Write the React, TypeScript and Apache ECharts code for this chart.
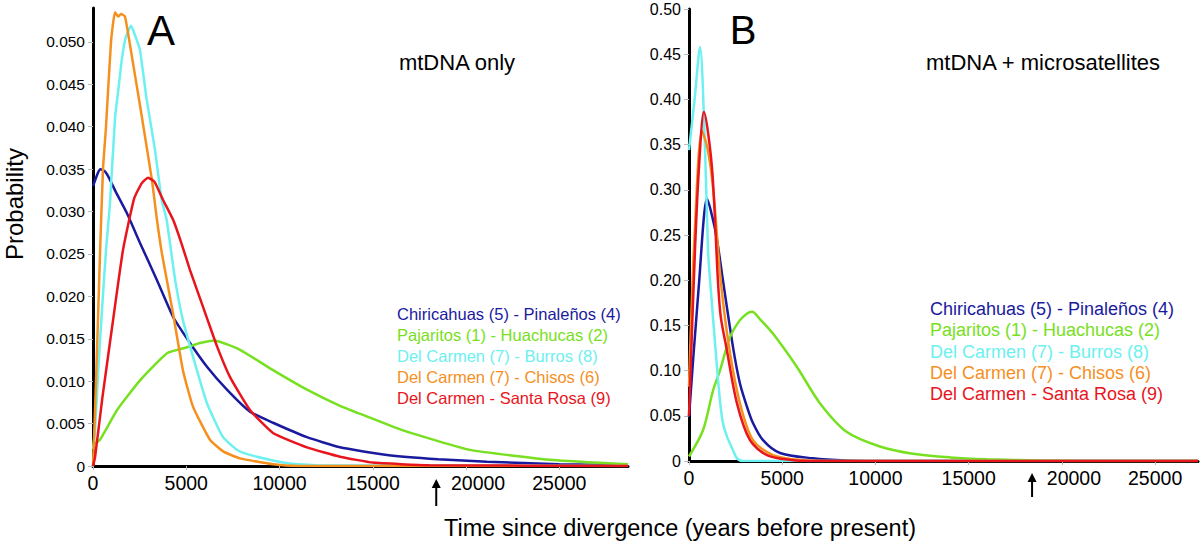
import React, { useEffect, useRef } from 'react';
import * as echarts from 'echarts';

const seriesNames = [
  'Chiricahuas (5) - Pinaleños (4)',
  'Pajaritos (1) - Huachucas (2)',
  'Del Carmen (7) - Burros (8)',
  'Del Carmen (7) - Chisos (6)',
  'Del Carmen - Santa Rosa (9)',
];
const seriesColors = ['#1a1a9e', '#77e021', '#6cf0f0', '#f5901f', '#e8151c'];

const yTicksA = [0, 0.005, 0.01, 0.015, 0.02, 0.025, 0.03, 0.035, 0.04, 0.045, 0.05];
const yTicksB = [0, 0.05, 0.1, 0.15, 0.2, 0.25, 0.3, 0.35, 0.4, 0.45, 0.5];
const xTicks = [0, 5000, 10000, 15000, 20000, 25000];
const arrowYear = 18400;
const xMaxA = 28680;
const xMaxB = 27300;

// Panel A: mtDNA only
const navyA: [number, number][] = [[0, 0.033], [250, 0.0345], [400, 0.035], [650, 0.0347], [900, 0.0338], [1180, 0.0325], [1820, 0.0298], [2520, 0.0263], [3430, 0.0219], [4290, 0.0176], [5200, 0.0145], [6110, 0.0117], [7180, 0.009], [8415, 0.0064], [9650, 0.0051], [11470, 0.0034], [13240, 0.0022], [15760, 0.0013], [18500, 0.0008], [21120, 0.0005], [25000, 0.0002], [28680, 0.0001]];
const greenA: [number, number][] = [[0, 0.0025], [375, 0.0031], [1290, 0.0066], [2520, 0.0101], [3970, 0.0133], [5040, 0.014], [5740, 0.0145], [6500, 0.0148], [7880, 0.0137], [9650, 0.0113], [11470, 0.009], [13240, 0.0071], [14500, 0.006], [16620, 0.0042], [20210, 0.0019], [24660, 0.0007], [28680, 0.0002]];
const cyanA: [number, number][] = [[0, 0.002], [100, 0.004], [300, 0.012], [500, 0.019], [700, 0.0255], [911, 0.031], [1180, 0.041], [1340, 0.044], [1550, 0.048], [1750, 0.0505], [2040, 0.0519], [2300, 0.0505], [2520, 0.049], [2880, 0.0432], [3320, 0.0373], [3680, 0.0314], [3950, 0.029], [4400, 0.022], [4820, 0.0172], [5570, 0.0113], [6110, 0.0074], [6970, 0.0034], [7800, 0.0018], [8790, 0.0011], [10560, 0.0003], [12000, 0.0001], [28680, 0]];
const orangeA: [number, number][] = [[0, 0], [100, 0.006], [250, 0.016], [375, 0.025], [536, 0.035], [697, 0.04], [965, 0.05], [1180, 0.0535], [1350, 0.053], [1500, 0.0533], [1715, 0.053], [2144, 0.0475], [2520, 0.0425], [3160, 0.0337], [3430, 0.029], [3700, 0.025], [4290, 0.018], [4820, 0.0113], [5360, 0.007], [6270, 0.0031], [7000, 0.0017], [7880, 0.0009], [9650, 0.0002], [11000, 0], [28680, 0]];
const redA: [number, number][] = [[0, 0], [107, 0.001], [500, 0.008], [1000, 0.016], [1610, 0.0255], [2200, 0.0315], [2600, 0.0333], [2950, 0.034], [3300, 0.0335], [3750, 0.0314], [4300, 0.029], [4750, 0.0262], [5200, 0.0231], [5650, 0.0203], [6100, 0.0175], [6650, 0.0141], [7340, 0.0105], [8415, 0.0066], [9650, 0.0039], [11470, 0.0022], [13240, 0.0011], [15010, 0.0004], [18000, 0.0001], [28680, 0]];

// Panel B: mtDNA + microsatellites
const navyB: [number, number][] = [[0, 0.049], [250, 0.12], [550, 0.2], [800, 0.27], [960, 0.29], [1250, 0.27], [1500, 0.245], [1820, 0.2], [2360, 0.126], [2730, 0.086], [3110, 0.06], [3430, 0.042], [3970, 0.023], [4880, 0.0088], [6650, 0.003], [8400, 0.0005], [10000, 0], [27300, 0]];
const greenB: [number, number][] = [[0, 0.005], [750, 0.034], [1290, 0.078], [1660, 0.1], [2200, 0.137], [2700, 0.155], [3100, 0.163], [3380, 0.165], [3800, 0.157], [4500, 0.141], [5790, 0.104], [7020, 0.064], [8470, 0.032], [10240, 0.016], [12000, 0.008], [14000, 0.004], [16000, 0.002], [19000, 0.0005], [22000, 0], [27300, 0]];
const cyanB: [number, number][] = [[0, 0.344], [300, 0.4], [590, 0.458], [860, 0.344], [1020, 0.233], [1130, 0.2], [1500, 0.104], [1660, 0.067], [1820, 0.042], [2040, 0.027], [2360, 0.012], [2570, 0.003], [2900, 0], [27300, 0]];
const orangeB: [number, number][] = [[0, 0.082], [300, 0.25], [700, 0.365], [1000, 0.345], [1300, 0.3], [1700, 0.2], [2150, 0.126], [2730, 0.064], [3430, 0.023], [4500, 0.0066], [6000, 0.001], [7500, 0], [27300, 0]];
const redB: [number, number][] = [[0, 0.05], [320, 0.233], [550, 0.33], [800, 0.386], [1230, 0.325], [1550, 0.2], [1700, 0.16], [2000, 0.126], [2570, 0.064], [3270, 0.023], [4180, 0.0066], [5500, 0.001], [6500, 0], [27300, 0]];

const dataA = [navyA, greenA, cyanA, orangeA, redA];
const dataB = [navyB, greenB, cyanB, orangeB, redB];

const FONT = '"Liberation Sans", Arial, Helvetica, sans-serif';

function xAxisCfg(gridIndex: number, max: number) {
  return {
    gridIndex,
    type: 'value',
    min: 0,
    max,
    axisLine: { show: true, onZero: false, lineStyle: { color: '#000', width: 3 } },
    axisTick: { show: true, length: 4, customValues: xTicks, lineStyle: { color: '#bbb' } },
    splitLine: { show: false },
    axisLabel: {
      customValues: xTicks,
      fontSize: 19.5,
      color: '#000',
      fontFamily: FONT,
      margin: 7,
      formatter: (v: number) => (v === 20000 ? '{s|20000}' : String(v)),
      rich: { s: { padding: [0, 0, 0, 24], fontSize: 19.5, color: '#000', fontFamily: FONT } },
    },
  };
}

function yAxisCfg(gridIndex: number, max: number, ticks: number[], digits: number, fontSize: number) {
  return {
    gridIndex,
    type: 'value',
    min: 0,
    max,
    axisLine: { show: true, lineStyle: { color: '#000', width: 3 } },
    axisTick: { show: true, length: 5, customValues: ticks, lineStyle: { color: '#bbb' } },
    splitLine: { show: false },
    axisLabel: {
      customValues: ticks,
      fontSize,
      color: '#000',
      fontFamily: FONT,
      margin: 8,
      formatter: (v: number) => (v === 0 ? '0' : v.toFixed(digits)),
    },
  };
}

export default function App() {
  const ref = useRef<HTMLDivElement>(null);
  useEffect(() => {
    const chart = echarts.init(ref.current!, null, { renderer: 'svg' });
    const series: any[] = [];
    dataA.forEach((d, i) => {
      series.push({
        type: 'line', name: seriesNames[i], xAxisIndex: 0, yAxisIndex: 0, data: d,
        showSymbol: false, smooth: 0.15, lineStyle: { color: seriesColors[i], width: 2.5 },
        itemStyle: { color: seriesColors[i] },
      });
    });
    dataB.forEach((d, i) => {
      series.push({
        type: 'line', name: seriesNames[i], xAxisIndex: 1, yAxisIndex: 1, data: d,
        showSymbol: false, smooth: 0.3, lineStyle: { color: seriesColors[i], width: 2.5 },
        itemStyle: { color: seriesColors[i] },
      });
    });

    const legendA = seriesNames.map((n, i) => ({
      type: 'text', left: 397, top: [315.5, 336.5, 357.5, 378, 399][i] - 10,
      style: { text: n, fill: seriesColors[i], font: `16.5px ${FONT}` },
    }));
    const legendB = seriesNames.map((n, i) => ({
      type: 'text', left: 930, top: [311, 332, 353.5, 375, 396][i] - 11,
      style: { text: n, fill: seriesColors[i], font: `18px ${FONT}` },
    }));

    chart.setOption({
      animation: false,
      backgroundColor: '#fff',
      grid: [
        { left: 93, top: 8, width: 535, height: 458 },
        { left: 689, top: 9, width: 509, height: 452 },
      ],
      xAxis: [xAxisCfg(0, xMaxA), xAxisCfg(1, xMaxB)],
      yAxis: [
        yAxisCfg(0, 0.054, yTicksA, 3, 15.5),
        yAxisCfg(1, 0.5, yTicksB, 2, 16),
      ],
      series,
    });

    const ax = chart.convertToPixel({ xAxisIndex: 0 }, arrowYear) as number;
    const bx = chart.convertToPixel({ xAxisIndex: 1 }, arrowYear) as number;
    const arrow = (x: number, y0: number, y1: number) => [
      { type: 'line', shape: { x1: x, y1: y0 + 5, x2: x, y2: y1 }, style: { stroke: '#000', lineWidth: 2 } },
      { type: 'polygon', shape: { points: [[x - 4.5, y0 + 9], [x, y0], [x + 4.5, y0 + 9]] }, style: { fill: '#000' } },
    ];

    chart.setOption({
      graphic: [
        { type: 'text', x: 161, y: 30, style: { text: 'A', font: `42px ${FONT}`, fill: '#000', align: 'center', verticalAlign: 'middle' } },
        { type: 'text', x: 743, y: 30, style: { text: 'B', font: `40px ${FONT}`, fill: '#000', align: 'center', verticalAlign: 'middle' } },
        { type: 'text', x: 457, y: 62, style: { text: 'mtDNA only', font: `22px ${FONT}`, fill: '#000', align: 'center', verticalAlign: 'middle' } },
        { type: 'text', x: 1043, y: 62, style: { text: 'mtDNA + microsatellites', font: `22px ${FONT}`, fill: '#000', align: 'center', verticalAlign: 'middle' } },
        { type: 'text', x: 14, y: 204, rotation: Math.PI / 2, style: { text: 'Probability', font: `24px ${FONT}`, fill: '#000', align: 'center', verticalAlign: 'middle' } },
        { type: 'text', x: 680, y: 528, style: { text: 'Time since divergence (years before present)', font: `23.5px ${FONT}`, fill: '#000', align: 'center', verticalAlign: 'middle' } },
        ...legendA,
        ...legendB,
        ...arrow(ax, 479, 506),
        ...arrow(bx, 473, 497),
      ],
    });
    return () => chart.dispose();
  }, []);
  return <div ref={ref} style={{ position: 'fixed', left: 0, top: 0, width: 1200, height: 547, background: '#fff' }} />;
}
